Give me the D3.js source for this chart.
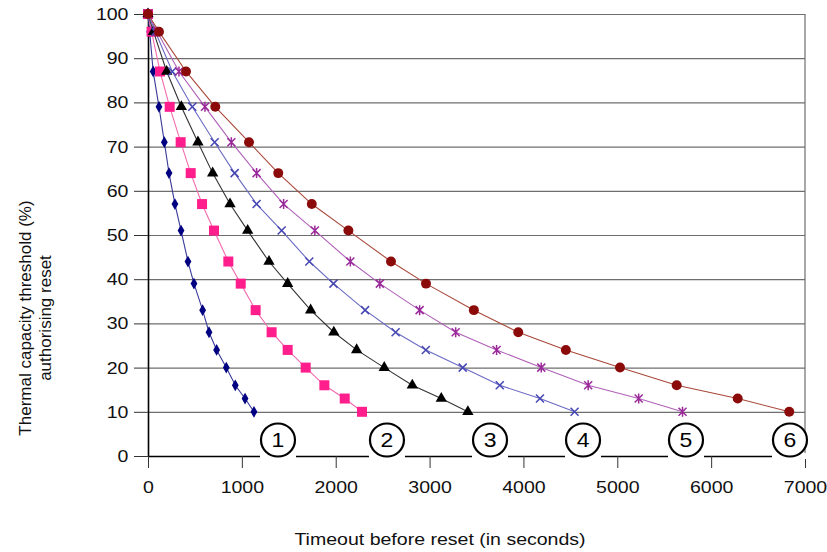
<!DOCTYPE html>
<html>
<head>
<meta charset="utf-8">
<script src="https://cdn.jsdelivr.net/npm/d3@7"></script>
<style>
  body { margin: 0; background: #fff; }
  svg { font-family: "Liberation Sans", Arial, sans-serif; }
</style>
</head>
<body>
<div id="chart"></div>
<script>
// Thermal capacity threshold levels (%) shared by every curve
const thresholds = [100, 96, 87, 79, 71, 64, 57, 51, 44, 39, 33, 28, 24, 20, 16, 13, 10];

// Timeout before reset (s), one array per curve
const curve1 = [0, 18, 55, 117, 174, 224, 287, 352, 426, 490, 582, 650, 731, 834, 930, 1034, 1129];
const curve2 = [0, 38, 128, 231, 348, 455, 576, 703, 856, 988, 1147, 1317, 1488, 1680, 1879, 2096, 2280];
const curve3 = [0, 58, 199, 355, 532, 689, 874, 1062, 1289, 1488, 1733, 1980, 2223, 2517, 2816, 3125, 3408];
const curve4 = [0, 78, 259, 472, 710, 923, 1157, 1424, 1719, 1976, 2313, 2638, 2960, 3353, 3748, 4176, 4545];
const curve5 = [0, 98, 330, 607, 888, 1157, 1445, 1778, 2156, 2470, 2894, 3278, 3714, 4190, 4690, 5228, 5695];
const curve6 = [0, 117, 405, 717, 1076, 1388, 1745, 2135, 2589, 2962, 3472, 3945, 4452, 5029, 5633, 6283, 6832];

const curves = [curve1, curve2, curve3, curve4, curve5, curve6];

// Circled curve numbers sitting on the x axis
const curveLabels = ["1", "2", "3", "4", "5", "6"];
const curveLabelX = [1385, 2546, 3644, 4635, 5732, 6840];

const xTicks = [0, 1000, 2000, 3000, 4000, 5000, 6000, 7000];
const yTicks = [0, 10, 20, 30, 40, 50, 60, 70, 80, 90, 100];

const xTitle = "Timeout before reset (in seconds)";
const yTitle = ["Thermal capacity threshold (%)", "authorising reset"];

// Look of each curve: marker colour, line colour, marker kind
const styles = [
  { marker: "#000080", line: "#3a3a9a", kind: "diamond" },
  { marker: "#ff1e8c", line: "#f26aae", kind: "square" },
  { marker: "#000000", line: "#333333", kind: "triangle" },
  { marker: "#4646b4", line: "#6a6ac4", kind: "cross" },
  { marker: "#9a2a9a", line: "#b060b8", kind: "star" },
  { marker: "#8b0a0a", line: "#a8483a", kind: "circle" },
];

const W = 827, H = 552;
const plot = { left: 148, right: 805, top: 14, bottom: 456 };
const stretch = 1.15; // the source picture is a little wider than tall

const svg = d3.select("#chart").append("svg")
  .attr("width", W).attr("height", H);

const x = d3.scaleLinear().domain([0, 7000]).range([plot.left, plot.right]);
const y = d3.scaleLinear().domain([0, 100]).range([plot.bottom, plot.top]);

// Horizontal gridlines
svg.append("g")
  .attr("transform", `translate(${plot.left},0)`)
  .call(d3.axisLeft(y).tickValues(yTicks.filter(d => d > 0))
    .tickSize(-(plot.right - plot.left)).tickFormat(""))
  .call(g => g.select(".domain").remove())
  .call(g => g.selectAll("line").attr("stroke", "#6e6e6e").attr("stroke-width", 1.2));

// Right border of the plot
svg.append("line")
  .attr("x1", plot.right).attr("x2", plot.right)
  .attr("y1", plot.top).attr("y2", plot.bottom)
  .attr("stroke", "#6e6e6e").attr("stroke-width", 1.2);

// Y axis
svg.append("g")
  .attr("transform", `translate(${plot.left},0)`)
  .call(d3.axisLeft(y).tickValues(yTicks).tickSize(14).tickPadding(3).tickSizeOuter(0)
    .tickFormat(d3.format("d")))
  .call(g => g.select(".domain").attr("stroke", "#000").attr("stroke-width", 1.6))
  .call(g => g.selectAll(".tick line").attr("stroke", "#333"))
  .call(g => g.selectAll("text").attr("font-size", 17).attr("fill", "#111")
    .attr("font-family", "Liberation Sans, Arial, sans-serif")
    .attr("transform", `scale(${stretch},1)`));

// X axis
svg.append("g")
  .attr("transform", `translate(0,${plot.bottom})`)
  .call(d3.axisBottom(x).tickValues(xTicks).tickSize(12).tickPadding(13).tickSizeOuter(0)
    .tickFormat(d3.format("d")))
  .call(g => g.select(".domain").attr("stroke", "#000").attr("stroke-width", 1.6))
  .call(g => g.selectAll(".tick line").attr("stroke", "#333"))
  .call(g => g.selectAll("text").attr("font-size", 17).attr("fill", "#111")
    .attr("font-family", "Liberation Sans, Arial, sans-serif")
    .attr("transform", `scale(${stretch},1)`));

// Curves
const line = d3.line().x(d => x(d[0])).y(d => y(d[1]));
const markerPath = {
  diamond: d3.symbol(d3.symbolDiamond, 40)(),
  square: d3.symbol(d3.symbolSquare, 100)(),
  triangle: d3.symbol(d3.symbolTriangle, 56)(),
  circle: d3.symbol(d3.symbolCircle, 78)(),
  cross: "M-4,-4L4,4M-4,4L4,-4",
  star: "M-4,-4L4,4M-4,4L4,-4M0,-5L0,5",
};

curves.forEach((vals, i) => {
  const st = styles[i];
  const pts = vals.map((v, j) => [v, thresholds[j]]);
  const g = svg.append("g").attr("class", `curve curve-${i + 1}`);
  g.append("path")
    .attr("d", line(pts))
    .attr("fill", "none")
    .attr("stroke", st.line)
    .attr("stroke-width", 1.1);
  const stroked = st.kind === "cross" || st.kind === "star";
  g.selectAll("path.mk")
    .data(pts)
    .join("path")
    .attr("class", "mk")
    .attr("transform", d => `translate(${x(d[0])},${y(d[1])})`)
    .attr("d", markerPath[st.kind])
    .attr("fill", stroked ? "none" : st.marker)
    .attr("stroke", stroked ? st.marker : "none")
    .attr("stroke-width", stroked ? 1.5 : 0);
});

// Circled curve numbers over the x axis
const lab = svg.append("g").attr("class", "curve-labels");
curveLabels.forEach((t, i) => {
  const cx = x(curveLabelX[i]);
  lab.append("rect")
    .attr("x", cx - 18).attr("y", plot.bottom - 3)
    .attr("width", 36).attr("height", 6)
    .attr("fill", "#fff");
  lab.append("ellipse")
    .attr("cx", cx).attr("cy", plot.bottom - 16)
    .attr("rx", 17).attr("ry", 16.5)
    .attr("fill", "#fff")
    .attr("stroke", "#000").attr("stroke-width", 2.2);
  lab.append("text")
    .attr("transform", `translate(${cx},${plot.bottom - 16}) scale(${stretch},1)`)
    .attr("dy", "0.36em")
    .attr("text-anchor", "middle")
    .attr("font-size", 20)
    .attr("fill", "#000")
    .text(t);
});

// Axis titles
svg.append("text")
  .attr("transform", `translate(440,545) scale(${stretch},1)`)
  .attr("text-anchor", "middle")
  .attr("font-size", 17).attr("fill", "#111")
  .text(xTitle);

const yt = svg.append("text")
  .attr("transform", "translate(0,318) rotate(-90)")
  .attr("text-anchor", "middle")
  .attr("font-size", 17).attr("fill", "#111");
yTitle.forEach((t, i) => {
  yt.append("tspan").attr("x", 0).attr("y", 31 + i * 20).text(t);
});
</script>
</body>
</html>
